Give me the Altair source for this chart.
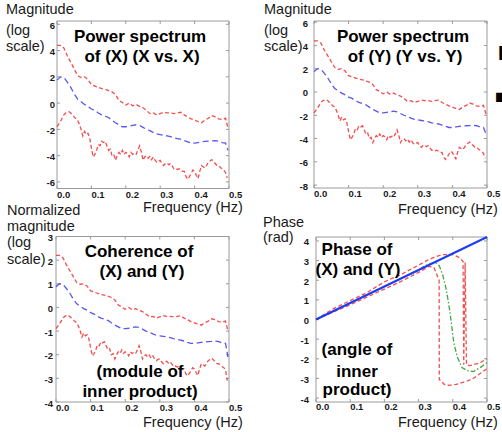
import altair as alt
import pandas as pd

# ---------------- data ----------------
FREQ_A = [round(i * 0.01, 2) for i in range(50)] + [0.497]
FREQ_B = [round(i * 0.005, 3) for i in range(100)]

PS_UPPER = [4.4, 4.4, 4.2, 3.6, 3.1, 2.6, 2.1, 1.95, 2.0, 1.8,
            1.4, 1.3, 1.2, 1.1, 1.05, 0.95, 0.85, 0.65, 0.2, 0.05,
            -0.15, 0.0, -0.2, -0.1, -0.25, -0.35, -0.55, -0.8, -0.75, -0.9,
            -0.8, -0.7, -0.75, -0.75, -0.8, -0.75, -0.7, -0.9, -1.05, -1.2,
            -1.3, -1.4, -1.5, -1.3, -1.15, -0.95, -1.05, -1.2, -1.25, -1.15, -1.9]
PS_MID = [1.75, 2.0, 1.95, 1.6, 1.2, 0.7, 0.3, 0.1, -0.1, -0.25,
          -0.45, -0.55, -0.75, -0.9, -1.0, -1.1, -1.3, -1.5, -1.65, -1.8,
          -1.8, -1.75, -1.7, -1.65, -1.7, -1.85, -2.0, -2.1, -2.25, -2.35,
          -2.4, -2.45, -2.5, -2.55, -2.65, -2.7, -2.75, -2.85, -2.95, -3.05,
          -3.05, -3.0, -2.95, -2.92, -2.9, -2.88, -2.85, -2.9, -3.0, -3.05, -3.6]
PS_LOWER = [-1.8, -1.6, -1.4, -1.15, -0.9, -0.75, -0.7, -0.65, -0.75, -0.9,
            -1.05, -1.2, -1.3, -1.6, -2.0, -2.5, -2.15, -2.4, -2.3, -2.65,
            -3.4, -4.1, -3.9, -3.6, -3.15, -3.25, -2.9, -3.0, -2.9, -3.25,
            -3.6, -3.5, -4.0, -3.9, -4.35, -4.0, -3.75, -3.9, -3.6, -3.9,
            -3.75, -3.85, -4.1, -3.75, -3.9, -3.8, -3.9, -3.6, -3.25, -3.7,
            -4.35, -4.1, -4.0, -4.2, -4.05, -4.3, -4.1, -4.35, -4.5, -4.4,
            -4.35, -4.6, -4.75, -4.6, -4.55, -4.7, -4.6, -4.8, -5.0, -4.95,
            -5.05, -5.0, -5.1, -5.2, -5.2, -5.6, -5.8, -5.6, -5.35, -5.1,
            -5.2, -5.5, -5.75, -5.2, -4.75, -4.85, -4.95, -4.75, -4.5, -4.4,
            -4.3, -4.45, -4.6, -4.75, -4.75, -4.9, -5.0, -5.1, -5.3, -5.7]

COH_UPPER = [2.2, 2.2, 2.1, 1.8, 1.55, 1.3, 1.05, 0.98, 1.0, 0.9,
             0.7, 0.65, 0.6, 0.55, 0.52, 0.48, 0.42, 0.32, 0.1, 0.02,
             -0.08, 0.0, -0.1, -0.05, -0.12, -0.18, -0.28, -0.4, -0.38, -0.45,
             -0.4, -0.35, -0.38, -0.38, -0.4, -0.38, -0.35, -0.45, -0.52, -0.6,
             -0.65, -0.7, -0.75, -0.65, -0.58, -0.48, -0.52, -0.6, -0.62, -0.58, -1.0]
COH_MID = [0.88, 1.0, 0.98, 0.8, 0.6, 0.35, 0.15, 0.05, -0.05, -0.12,
           -0.22, -0.28, -0.38, -0.45, -0.5, -0.55, -0.65, -0.75, -0.82, -0.9,
           -0.9, -0.88, -0.85, -0.82, -0.85, -0.92, -1.0, -1.05, -1.12, -1.18,
           -1.2, -1.22, -1.25, -1.28, -1.32, -1.35, -1.38, -1.42, -1.48, -1.52,
           -1.52, -1.5, -1.48, -1.46, -1.45, -1.44, -1.42, -1.45, -1.5, -1.52, -2.1]
COH_LOWER = [-0.9, -0.8, -0.7, -0.58, -0.45, -0.38, -0.35, -0.32, -0.38, -0.45,
             -0.52, -0.6, -0.65, -0.8, -1.0, -1.25, -1.08, -1.2, -1.15, -1.32,
             -1.7, -2.05, -1.95, -1.8, -1.58, -1.62, -1.45, -1.5, -1.45, -1.62,
             -1.8, -1.75, -2.0, -1.95, -2.18, -2.0, -1.88, -1.95, -1.8, -1.95,
             -1.88, -1.92, -2.05, -1.88, -1.95, -1.9, -1.95, -1.8, -1.62, -1.85,
             -2.18, -2.05, -2.0, -2.1, -2.02, -2.15, -2.05, -2.18, -2.25, -2.2,
             -2.18, -2.3, -2.38, -2.3, -2.28, -2.35, -2.3, -2.4, -2.5, -2.48,
             -2.52, -2.5, -2.55, -2.6, -2.6, -2.8, -2.9, -2.8, -2.68, -2.55,
             -2.6, -2.75, -2.88, -2.6, -2.38, -2.42, -2.48, -2.38, -2.25, -2.2,
             -2.15, -2.22, -2.3, -2.38, -2.38, -2.45, -2.5, -2.55, -2.65, -3.1]

PH_LINE_F = [0.0, 0.5]
PH_LINE_V = [0.0, 4.2]
PH_UP_F = [0.0, 0.05, 0.1, 0.15, 0.2, 0.25, 0.3, 0.33, 0.35, 0.37, 0.4, 0.42, 0.43,
           0.432, 0.436, 0.44, 0.45, 0.46, 0.48, 0.5]
PH_UP_V = [0.0, 0.54, 0.96, 1.38, 1.92, 2.3, 2.77, 3.05, 3.2, 3.3, 3.3, 3.15, 2.95,
           -2.3, 2.9, -2.3, -2.35, -2.3, -2.2, -2.0]
PH_LO_F = [0.0, 0.05, 0.1, 0.15, 0.2, 0.25, 0.3, 0.33, 0.345, 0.36, 0.3605,
           0.375, 0.39, 0.41, 0.44, 0.46, 0.48, 0.5]
PH_LO_V = [0.0, 0.38, 0.75, 1.15, 1.55, 1.95, 2.4, 2.7, 2.65, 2.0, -3.05,
           -3.3, -3.35, -3.3, -3.15, -3.0, -2.75, -2.5]
PH_GR_F = [0.0, 0.3, 0.32, 0.335, 0.35, 0.36, 0.37, 0.38, 0.387, 0.393, 0.398,
           0.403, 0.413, 0.427, 0.442, 0.46, 0.48, 0.5]
PH_GR_V = [0.0, 2.52, 2.75, 2.85, 2.9, 2.75, 2.3, 1.6, 0.9, 0.2, -0.5,
           -1.2, -1.9, -2.45, -2.6, -2.65, -2.45, -2.2]

X_TICKS = [0.0, 0.1, 0.2, 0.3, 0.4, 0.5]
X_LABELS = ["0.0", "0.1", "0.2", "0.3", "0.4", "0.5"]
Y1_TICKS = [-6, -4, -2, 0, 2, 4, 6]
Y2_TICKS = [-8, -6, -4, -2, 0, 2, 4, 6]
Y3_TICKS = [-4, -3, -2, -1, 0, 1, 2, 3]
Y4_TICKS = [-4, -3, -2, -1, 0, 1, 2, 3, 4]

# ---------------- style ----------------
FONT = "Liberation Sans"
RED = "#f23a3a"
BLUE = "#4646ee"
BLUE_SOLID = "#1b3cf5"
GREEN = "#2f9a2f"
FRAME = "#9a9a9a"
TXT = "#1a1a1a"
ONE = pd.DataFrame({"a": [0]})


def line(fs, vs, sx, sy, color, dash=None, width=1.3, opacity=0.9):
    df = pd.DataFrame({"f": fs, "v": vs, "i": list(range(len(fs)))})
    kw = dict(color=color, strokeWidth=width, opacity=opacity)
    if dash is not None:
        kw["strokeDash"] = dash
    return alt.Chart(df).mark_line(**kw).encode(
        x=alt.X("f:Q", scale=sx, axis=None),
        y=alt.Y("v:Q", scale=sy, axis=None),
        order=alt.Order("i:Q"),
    )


def panel(geom, ydom, yticks, lab_gap, x_lab_dy, series):
    L, R, T, B = geom
    sx = alt.Scale(domain=[0, 0.5], range=[L, R], nice=False, zero=False)
    sy = alt.Scale(domain=ydom, range=[B, T], nice=False, zero=False)
    layers = []
    frame = alt.Chart(ONE).mark_rect(fillOpacity=0, stroke=FRAME, strokeWidth=1).encode(
        x=alt.X(datum=0, scale=sx, axis=None), x2=alt.X2(datum=0.5),
        y=alt.Y(datum=ydom[0], scale=sy, axis=None), y2=alt.Y2(datum=ydom[1]),
    )
    layers.append(frame)
    ydf = pd.DataFrame({"v": yticks, "lab": [str(t) for t in yticks]})
    xdf = pd.DataFrame({"v": X_TICKS, "lab": X_LABELS})
    yb = alt.Chart(ydf)
    xb = alt.Chart(xdf)
    layers.append(yb.mark_rule(color=FRAME).encode(
        y=alt.Y("v:Q", scale=sy, axis=None), x=alt.value(L), x2=alt.value(L + 3)))
    layers.append(yb.mark_rule(color=FRAME).encode(
        y=alt.Y("v:Q", scale=sy, axis=None), x=alt.value(R - 3), x2=alt.value(R)))
    layers.append(xb.mark_rule(color=FRAME).encode(
        x=alt.X("v:Q", scale=sx, axis=None), y=alt.value(B - 3), y2=alt.value(B)))
    layers.append(xb.mark_rule(color=FRAME).encode(
        x=alt.X("v:Q", scale=sx, axis=None), y=alt.value(T), y2=alt.value(T + 3)))
    layers.append(yb.mark_text(align="right", baseline="middle", dy=1.5, font=FONT,
                               fontSize=9.5, fontWeight="bold", color=TXT).encode(
        y=alt.Y("v:Q", scale=sy, axis=None), x=alt.value(L - lab_gap), text="lab:N"))
    layers.append(xb.mark_text(align="left", baseline="alphabetic", font=FONT,
                               fontSize=9.5, fontWeight="bold", color=TXT).encode(
        x=alt.X("v:Q", scale=sx, axis=None), y=alt.value(B + x_lab_dy), text="lab:N"))
    for s in series:
        layers.append(line(s[0], s[1], sx, sy, *s[2:]))
    return alt.layer(*layers)


def txt(s, x, y, size=14.5, bold=False, align="left"):
    return alt.Chart(ONE).mark_text(
        align=align, baseline="alphabetic", font=FONT,
        fontSize=size, fontWeight="bold" if bold else "normal",
        color="#000000" if bold else TXT
    ).encode(x=alt.value(x), y=alt.value(y), text=alt.value(s))


RD = [4, 2.5]
BD = [6, 3.5]
GD = [5, 2, 1.5, 2]

p1 = panel((57, 229, 21, 188.5), [-6.5, 6.25], Y1_TICKS, 2, 9, [
    (FREQ_A, PS_UPPER, RED, RD),
    (FREQ_A, PS_MID, BLUE, BD),
    (FREQ_B, PS_LOWER, RED, RD),
])
p2 = panel((314, 487, 21, 188), [-8.25, 6.1], Y2_TICKS, 6, 9, [
    (FREQ_A, PS_UPPER, RED, RD),
    (FREQ_A, PS_MID, BLUE, BD),
    (FREQ_B, PS_LOWER, RED, RD),
])
p3 = panel((56, 229, 236.5, 402), [-4, 3], Y3_TICKS, 3, 9, [
    (FREQ_A, COH_UPPER, RED, RD),
    (FREQ_A, COH_MID, BLUE, BD),
    (FREQ_B, COH_LOWER, RED, RD),
])
p4 = panel((316, 487, 237, 402), [-4.2, 4.2], Y4_TICKS, 7, 8, [
    (PH_UP_F, PH_UP_V, RED, RD),
    (PH_LO_F, PH_LO_V, RED, RD),
    (PH_GR_F, PH_GR_V, GREEN, GD),
    (PH_LINE_F, PH_LINE_V, BLUE_SOLID, None, 2, 1),
])

texts = [
    txt("Magnitude", 6, 14), txt("(log", 6, 35), txt("scale)", 6, 50.5),
    txt("Magnitude", 264, 14), txt("(log", 264, 35), txt("scale)", 264, 50.5),
    txt("Normalized", 7, 215), txt("magnitude", 7, 231), txt("(log", 7, 247), txt("scale)", 7, 264),
    txt("Phase", 263, 226.5), txt("(rad)", 263, 242),
    txt("Frequency (Hz)", 143, 212), txt("Frequency (Hz)", 143, 427),
    txt("Frequency (Hz)", 398, 213.5), txt("Frequency (Hz)", 398, 427),
    txt("Power spectrum", 140, 41.5, 17, True, "center"),
    txt("of (X) (X vs. X)", 142, 62, 17, True, "center"),
    txt("Power spectrum", 403, 41.5, 17, True, "center"),
    txt("of (Y) (Y vs. Y)", 405, 62, 17, True, "center"),
    txt("Coherence of", 139, 257, 17, True, "center"),
    txt("(X) and (Y)", 142, 276.5, 17, True, "center"),
    txt("(module of", 140, 376.5, 17, True, "center"),
    txt("inner product)", 140, 396.5, 17, True, "center"),
    txt("Phase of", 357, 255, 17, True, "center"),
    txt("(X) and (Y)", 358, 275, 17, True, "center"),
    txt("(angle of", 357, 355, 17, True, "center"),
    txt("inner", 357, 376.5, 17, True, "center"),
    txt("product)", 357, 395, 17, True, "center"),
    txt("I", 498, 60, 20, True),
    txt("■", 495, 103, 19, True),
]

chart = alt.layer(p1, p2, p3, p4, *texts).resolve_scale(
    x="independent", y="independent"
).properties(
    width=502, height=432, padding=0,
    autosize=alt.AutoSizeParams(type="none"),
).configure_view(stroke=None)

chart.save("out.html", embed_options={"renderer": "svg", "actions": False})
